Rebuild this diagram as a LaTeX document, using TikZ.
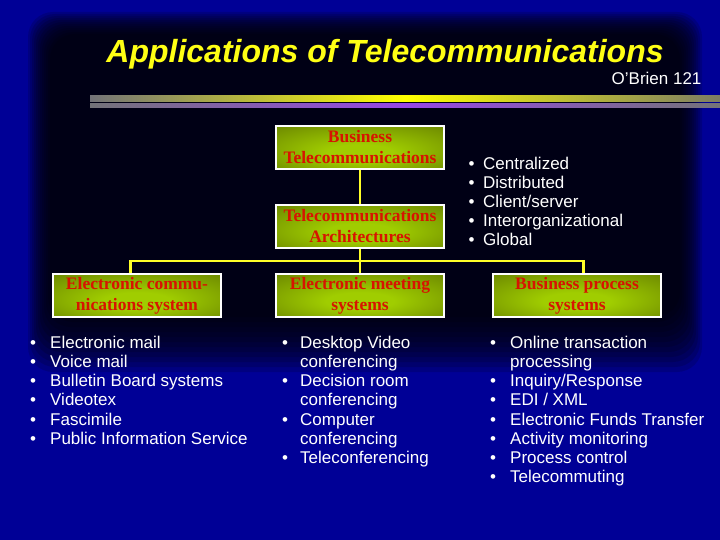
\documentclass[tikz,border=0pt]{standalone}
\usepackage{fontspec}
\setmainfont{Liberation Serif}
\setsansfont{Liberation Sans}
\usetikzlibrary{positioning}

\definecolor{slideblue}{RGB}{0,0,150}
\definecolor{boxlight}{RGB}{160,205,0}
\definecolor{boxdark}{RGB}{85,105,0}
\definecolor{boxred}{RGB}{215,20,0}
\definecolor{linkyellow}{RGB}{255,255,40}
\definecolor{titleyellow}{RGB}{255,255,20}
\definecolor{bargray}{RGB}{115,115,120}
\definecolor{barolive}{RGB}{125,125,100}
\definecolor{barpurple}{RGB}{150,70,230}

\pgfdeclareradialshading{boxglow}{\pgfpoint{0bp}{-8bp}}{color(0bp)=(boxlight); color(10bp)=(boxlight); color(50bp)=(boxdark)}

\newcommand{\blt}[1]{\makebox[#1][l]{\textbullet}}

\begin{document}
\begin{tikzpicture}[
    x=1pt, y=-1pt,
    node distance=34pt,
    topic/.style={draw=white, line width=2pt, rectangle, shading=boxglow, minimum width=168pt, minimum height=43pt, inner sep=0pt, align=center, text=boxred, font=\fontsize{17.5}{21}\selectfont\bfseries},
    listtext/.style={anchor=base west, inner sep=0pt, align=left, text=white, font=\sffamily\fontsize{17}{19.2}\selectfont},
    link/.style={draw=linkyellow, line width=2.5pt}
]

% Background
\fill[slideblue] (0,0) rectangle (720,540);
\foreach \k in {0,...,11}
  \fill[black, fill opacity=0.14, rounded corners=25pt] (28+2*\k,12+2*\k) rectangle (702-2*\k,372-5*\k);
\useasboundingbox (0,0) rectangle (720,540);

% Title
\node (title) [anchor=base, text=titleyellow, font=\sffamily\bfseries\itshape\fontsize{32}{38}\selectfont] at (385,62.7) {Applications of Telecommunications};
\node (source) [anchor=base east, text=white, font=\sffamily\fontsize{17}{20}\selectfont] at (705,84.3) {O’Brien 121};
\shade[left color=bargray, right color=barolive, middle color=yellow] (90,96) rectangle (720,101.5);
\shade[left color=bargray, right color=bargray, middle color=barpurple] (90,103.3) rectangle (720,107.3);

% Nodes
\node (biz) [topic] at (360,147.5) {Business\\Telecommunications};
\node (arch) [topic, below=of biz] {Telecommunications\\Architectures};
\node (meet) [topic, below=24pt of arch] {Electronic meeting\\systems};
\node (comm) [topic, left=53pt of meet] {Electronic commu-\\nications system};
\node (proc) [topic, right=47pt of meet] {Business process\\systems};

% Connections
\coordinate (bus) at ([yshift=-12pt]arch.south);
\draw [link] (biz) -- (arch);
\draw [link] (arch) -- (meet);
\draw [link] ([xshift=-6.5pt]comm.north) |- (bus) -| ([xshift=6.5pt]proc.north);

% Lists (placed by the baseline of their last line)
\node (archlist) [listtext] at (468.5,245.8) {\blt{14.5pt}Centralized\\\blt{14.5pt}Distributed\\\blt{14.5pt}Client/server\\\blt{14.5pt}Interorganizational\\\blt{14.5pt}Global};
\node (commlist) [listtext] at (30,444.3) {\blt{20pt}Electronic mail\\\blt{20pt}Voice mail\\\blt{20pt}Bulletin Board systems\\\blt{20pt}Videotex\\\blt{20pt}Fascimile\\\blt{20pt}Public Information Service};
\node (meetlist) [listtext] at (282,463.5) {\blt{18pt}Desktop Video\\\hspace*{18pt}conferencing\\\blt{18pt}Decision room\\\hspace*{18pt}conferencing\\\blt{18pt}Computer\\\hspace*{18pt}conferencing\\\blt{18pt}Teleconferencing};
\node (proclist) [listtext] at (490,482.7) {\blt{20pt}Online transaction\\\hspace*{20pt}processing\\\blt{20pt}Inquiry/Response\\\blt{20pt}EDI / XML\\\blt{20pt}Electronic Funds Transfer\\\blt{20pt}Activity monitoring\\\blt{20pt}Process control\\\blt{20pt}Telecommuting};

\end{tikzpicture}
\end{document}
